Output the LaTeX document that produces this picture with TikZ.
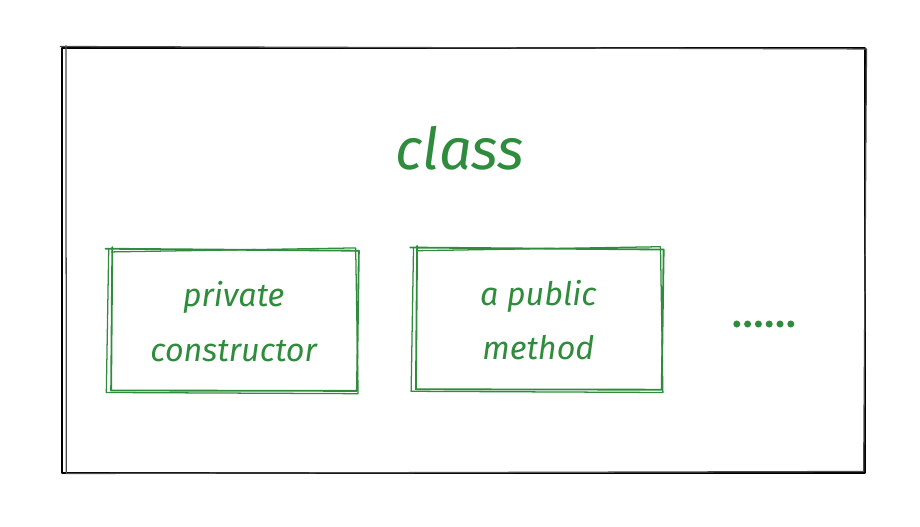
\documentclass[tikz,border=0pt]{standalone}
\usepackage{fontspec}
\setmainfont{Fira Sans}
\usepackage{tikz}
\usetikzlibrary{positioning,calc}
\definecolor{SketchGreen}{RGB}{47,140,60}

\begin{document}
\begin{tikzpicture}[
                x=1cm, y=1cm,
                % hop khung ve tay
                frame/.style={draw=none, minimum width=20.05cm, minimum height=10.6cm},
                cbox/.style={draw=none, minimum width=6.15cm, minimum height=3.55cm,
                    align=center, text=SketchGreen, font=\fontsize{23}{39}\selectfont\itshape},
                ink/.style={line width=1.3pt, line cap=round, line join=round},
                dot/.style={circle, fill=SketchGreen, inner sep=0pt, minimum size=5pt}
            ]
                \useasboundingbox (0,0) rectangle (23,-13.15);

                % Outer frame
                \node[frame] (cls) at (11.59,-6.51) {};
                \draw[ink, black, line width=1.6pt] (cls.north west) -- (cls.north east) -- (cls.south east) -- (cls.south west) -- cycle;
                \draw[ink, black!70, line width=0.9pt] ($(cls.north west)+(-0.05,0.04)$) -- ($(cls.north east)+(0.04,-0.02)$)
                    -- ($(cls.south east)+(-0.03,0.03)$) -- ($(cls.south west)+(0.1,-0.02)$) -- ($(cls.north west)+(0.09,0.06)$);

                % Title
                \node[text=SketchGreen, font=\fontsize{41}{48}\selectfont\itshape] (title) at (11.5,-3.7) {class};

                % Row of members
                \node[cbox] (ctor) at (5.84,-8.03) {private\\constructor};
                \node[cbox] (meth) at (13.46,-8.0) {a public\\method};

                \foreach \b in {ctor,meth} {
                    \draw[ink, SketchGreen] ($(\b.north west)+(-0.12,0.03)$) -- ($(\b.north east)+(0.05,-0.02)$)
                        -- ($(\b.south east)+(0.0,0.04)$) -- ($(\b.south west)+(0.02,0.05)$) -- ($(\b.north west)+(0.05,0.07)$);
                    \draw[ink, SketchGreen, line width=0.9pt] ($(\b.north west)+(0.03,-0.05)$) -- ($(\b.north east)+(-0.03,0.05)$)
                        -- ($(\b.south east)+(0.03,-0.03)$) -- ($(\b.south west)+(-0.1,0.0)$) -- ($(\b.north west)+(-0.04,0.02)$);
                }

                % Dots
                \foreach \i in {0,...,5}
                    \node[dot] (d\i) at ({18.42+0.27*\i},-8.1) {};

            \end{tikzpicture}
\end{document}
